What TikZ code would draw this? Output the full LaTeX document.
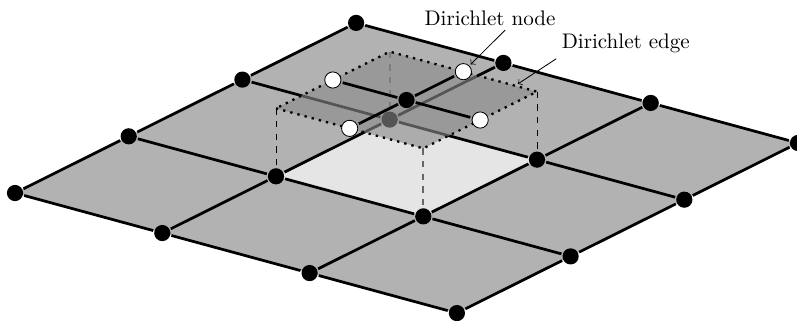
\documentclass[tikz,border=0pt]{standalone}
\usetikzlibrary{%
  arrows,%
  shapes,%
  positioning,%
  calc%
}

\begin{document}
\begin{tikzpicture}[
  >=to,
  line width=1.3pt,
  gridnode/.style={circle, fill=black, minimum size=2.7mm, inner sep=0pt},
  whitenode/.style={circle, fill=white, draw=black, line width=0.4pt, minimum size=2.7mm, inner sep=0pt, outer sep=1pt},
  plate/.style={fill=black!46, fill opacity=0.62, draw=black, line width=1.1pt, dash pattern=on 1.1pt off 2.4pt},
  lift/.style={dashed, line width=0.4pt},
  liftgray/.style={dashed, line width=0.8pt, draw=black!60}
]
\useasboundingbox (0,0) rectangle (13.283,5.35);

\foreach \i in {0,...,3} {
  \foreach \j in {0,...,3} {
    \coordinate (p\i\j) at (1.895*\i+2.455*\j+0.25,0.945*\i-0.667*\j+2.133);
  }
}

\fill[black!30] (p00) -- (p30) -- (p33) -- (p03) -- cycle;
\fill[black!10] (p11) -- (p21) -- (p22) -- (p12) -- cycle;

\foreach \i in {0,...,3} {
  \foreach \j in {0,...,3} {
    \node[gridnode] (n\i\j) at (p\i\j) {};
  }
}
\foreach \i in {0,...,3} {
  \draw (n\i0) -- (n\i1) -- (n\i2) -- (n\i3);
  \draw (n0\i) -- (n1\i) -- (n2\i) -- (n3\i);
}

% raised element
\coordinate (a) at ($(p11)+(0,1.133)$);
\coordinate (b) at ($(p12)+(0,1.133)$);
\coordinate (c) at ($(p22)+(0,1.133)$);
\coordinate (d) at ($(p21)+(0,1.133)$);

\draw[lift] (a) -- (n11);
\draw[lift] (c) -- (n22);
\draw[liftgray] (b) -- (n12);
\draw[liftgray] (d) -- (n21);

\draw[plate] (a) -- (b) -- (c) -- (d) -- cycle;

\node[gridnode] (center) at ($(a)!0.5!(c)$) {};
\node[whitenode] (wab) at ($(a)!0.5!(b)$) {};
\node[whitenode] (wbc) at ($(b)!0.5!(c)$) {};
\node[whitenode] (wcd) at ($(c)!0.5!(d)$) {};
\node[whitenode] (wda) at ($(d)!0.5!(a)$) {};
\draw (wab) -- (center) -- (wcd);
\draw (wda) -- (center) -- (wbc);

\node (dnode) at (8.167,5.05) {Dirichlet node};
\node (dedge) at (10.43,4.62) {Dirichlet edge};
\coordinate (dnodefrom) at (8.42,4.85);
\coordinate (dedgefrom) at (9.27,4.37);
\coordinate (dedgeto) at (8.63,3.95);
\draw[->, line width=0.4pt] (dnodefrom) -- (wcd);
\draw[->, line width=0.4pt] (dedgefrom) -- (dedgeto);

\end{tikzpicture}
\end{document}
